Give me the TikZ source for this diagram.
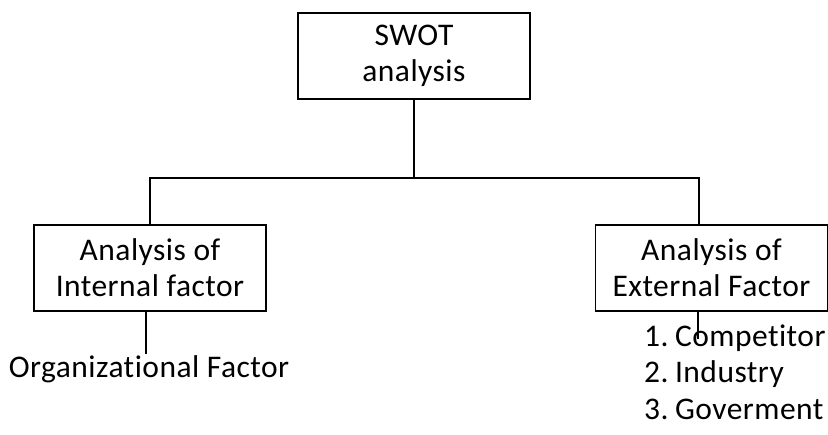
\documentclass[tikz,border=0pt]{standalone}
\usepackage{fontspec}
\setmainfont[Ligatures=NoCommon, LetterSpace=1.5]{Carlito}
\newcommand{\numgap}{\hspace{6.5pt}}
\begin{document}
\begin{tikzpicture}[x=1pt,y=-1pt,
  every node/.style={font=\fontsize{31.5}{36}\selectfont},
  box/.style={draw, line width=1.4pt, minimum width=232pt, minimum height=86pt,
    inner sep=0pt, align=center},
  link/.style={line width=1.4pt},
  item/.style={inner sep=0pt}]
\useasboundingbox (0,0) rectangle (828,435);
\node[box] (swot) at (414,56) {SWOT\\analysis};
\node[box] (int) at (150,268) {Analysis of\\Internal factor};
\node[box] (ext) at (711.5,268) {Analysis of\\External Factor};
\node[item, anchor=base] (org) at (149,378) {Organizational Factor};
\node[item, anchor=base west] (c1) at (644,347) {1.\numgap Competitor};
\node[item, anchor=base west] (c2) at (644,383) {2.\numgap Industry};
\node[item, anchor=base west] (c3) at (644,420) {3.\numgap Goverment};
% tree connectors
\coordinate (junction) at (414,178);
\draw[link] (swot.south) -- (junction);
\draw[link] (junction) -| (int.north);
\draw[link] (junction) -| ([xshift=-12.5pt]ext.north);
\draw[link] ([xshift=-4pt]int.south) -- ++(0,42);
\draw[link] ([xshift=-13.5pt]ext.south) -- ++(0,27);
\end{tikzpicture}
\end{document}
